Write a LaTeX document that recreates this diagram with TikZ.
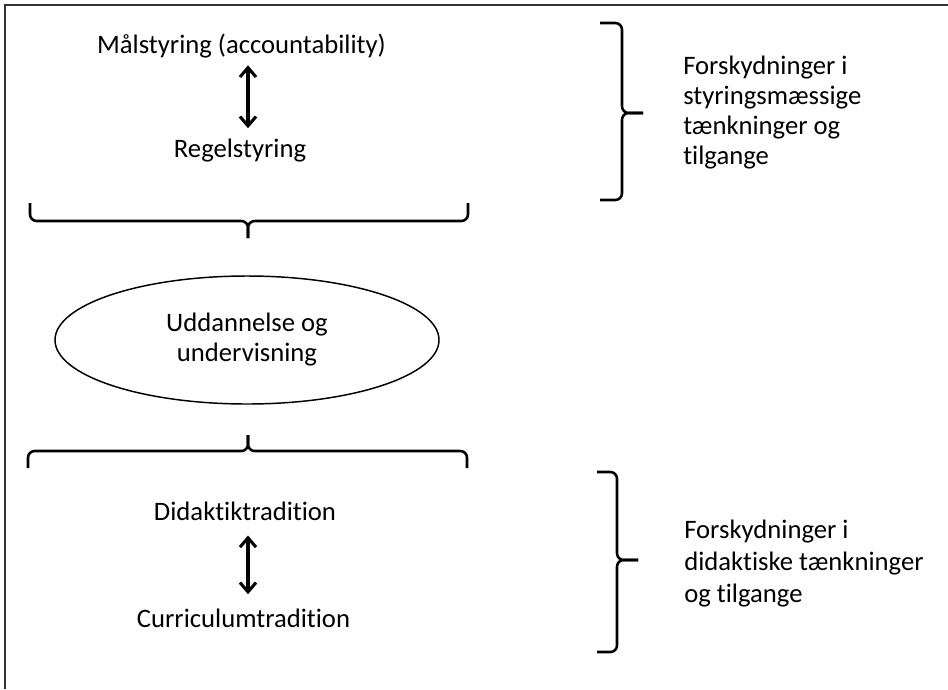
\documentclass[tikz,border=0pt]{standalone}
\usepackage{fontspec}
\setmainfont{Carlito}[Ligatures=NoCommon]
\usetikzlibrary{shapes.geometric,arrows.meta}
\begin{document}
\begin{tikzpicture}[x=0.75pt,y=-0.75pt,
  txt/.style={font=\fontsize{20}{24}\selectfont, inner sep=0pt, anchor=base},
  side/.style={font=\fontsize{20}{#1}\selectfont, align=left, inner sep=0pt, anchor=base west},
  brc/.style={line width=1.9pt, rounded corners=5pt, line join=round},
  dbl/.style={{Straight Barb[length=7pt,width=12pt,line width=2.3pt]}-{Straight Barb[length=7pt,width=12pt,line width=2.3pt]}, line width=2.3pt},
  frm/.style={draw=black!80, line width=1.2pt}]
\useasboundingbox (0,0) rectangle (948,689);
\draw[frm] (948,5) -- (5,5) -- (5,689);

\coordinate (ax) at (248,0);
\node[txt] (m1) at (241.5,53) {Målstyring (accountability)};
\node[txt] (r1) at (240,157) {Regelstyring};
\draw[dbl, shorten <=5.6pt, shorten >=7.5pt] (m1.south -| ax) -- (r1.north -| ax);

\draw[brc] (30,203) -- (30,221) -- (248,221) -- (248,238);
\draw[brc] (248,238) -- (248,221) -- (468,221) -- (468,203);

\node[ellipse, draw, line width=1.1pt, minimum width=288pt, minimum height=96pt, inner sep=0pt,
      align=center, font=\fontsize{20}{22.5}\selectfont] (ell) at (247,340) {Uddannelse og\\undervisning};

\draw[brc] (28,468) -- (28,451) -- (248,451) -- (248,435);
\draw[brc] (248,435) -- (248,451) -- (467,451) -- (467,468);

\node[txt] (d1) at (245,520) {Didaktiktradition};
\node[txt] (c1) at (243.5,627) {Curriculumtradition};
\draw[dbl, shorten <=11.25pt, shorten >=10.5pt] (d1.south -| ax) -- (c1.north -| ax);

\draw[brc] (600,23) -- (622,23) -- (622,113) -- (643,113);
\draw[brc] (643,113) -- (622,113) -- (622,200) -- (600,200);
\node[side=22.3pt] (t1) at (683,164) {Forskydninger i\\styringsmæssige\\tænkninger og\\tilgange};

\draw[brc] (597,472) -- (617,472) -- (617,560) -- (638,560);
\draw[brc] (638,560) -- (617,560) -- (617,652) -- (597,652);
\node[side=24pt] (t2) at (684,602) {Forskydninger i\\didaktiske tænkninger\\og tilgange};
\end{tikzpicture}
\end{document}
